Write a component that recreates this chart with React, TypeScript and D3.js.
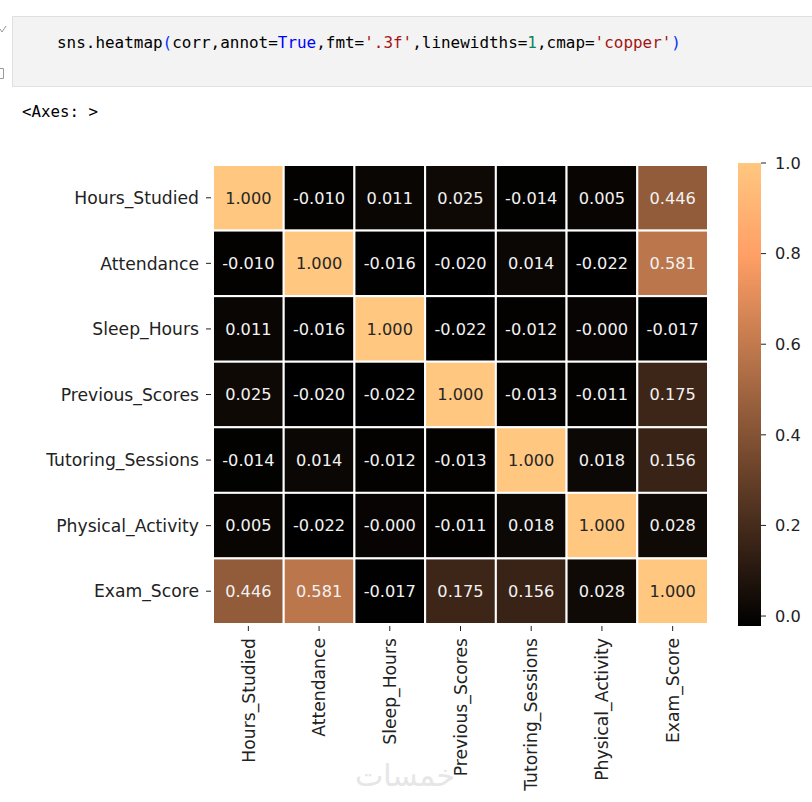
import React, { useEffect, useRef } from 'react';
import * as d3 from 'd3';

const labels = [
  'Hours_Studied',
  'Attendance',
  'Sleep_Hours',
  'Previous_Scores',
  'Tutoring_Sessions',
  'Physical_Activity',
  'Exam_Score',
];

const corr = [
  [1.0, -0.01, 0.011, 0.025, -0.014, 0.005, 0.446],
  [-0.01, 1.0, -0.016, -0.02, 0.014, -0.022, 0.581],
  [0.011, -0.016, 1.0, -0.022, -0.012, -0.0003, -0.017],
  [0.025, -0.02, -0.022, 1.0, -0.013, -0.011, 0.175],
  [-0.014, 0.014, -0.012, -0.013, 1.0, 0.018, 0.156],
  [0.005, -0.022, -0.0003, -0.011, 0.018, 1.0, 0.028],
  [0.446, 0.581, -0.017, 0.175, 0.156, 0.028, 1.0],
];

const cbTicks = [0.0, 0.2, 0.4, 0.6, 0.8, 1.0];

const codeParts = [
  { t: 'sns.heatmap', c: '#000000' },
  { t: '(', c: '#0431fa' },
  { t: 'corr,annot=', c: '#000000' },
  { t: 'True', c: '#0000ff' },
  { t: ',fmt=', c: '#000000' },
  { t: "'.3f'", c: '#a31515' },
  { t: ',linewidths=', c: '#000000' },
  { t: '1', c: '#098658' },
  { t: ',cmap=', c: '#000000' },
  { t: "'copper'", c: '#a31515' },
  { t: ')', c: '#0431fa' },
];

// matplotlib 'copper'
const copper = (t: number) => {
  const x = Math.max(0, Math.min(1, t));
  const r = Math.min(1, 1.25 * x);
  const g = 0.7812 * x;
  const b = 0.4975 * x;
  return d3.rgb(r * 255, g * 255, b * 255).formatHex();
};

const lum = (hex: string) => {
  const c = d3.rgb(hex);
  const f = (v: number) => {
    const s = v / 255;
    return s <= 0.03928 ? s / 12.92 : Math.pow((s + 0.055) / 1.055, 2.4);
  };
  return 0.2126 * f(c.r) + 0.7152 * f(c.g) + 0.0722 * f(c.b);
};

const App: React.FC = () => {
  const svgRef = useRef<SVGSVGElement>(null);

  useEffect(() => {
    if (!svgRef.current) return;
    const svg = d3.select(svgRef.current);
    svg.selectAll('*').remove();

    const font = '"DejaVu Sans", sans-serif';
    const mono = '"DejaVu Sans Mono", monospace';
    const tickSize = 17.2;

    // notebook cell
    svg.append('rect')
      .attr('x', 12.5).attr('y', 16.5).attr('width', 820).attr('height', 70)
      .attr('fill', '#f3f3f3').attr('stroke', '#e0e0e0');
    svg.append('path')
      .attr('d', 'M0,29 L2,32 L6,26')
      .attr('fill', 'none').attr('stroke', '#9a9a9a').attr('stroke-width', 1);
    svg.append('path')
      .attr('d', 'M0,68.5 H3.5 V78.5 H0')
      .attr('fill', 'none').attr('stroke', '#9a9a9a').attr('stroke-width', 1);

    const code = svg.append('text')
      .attr('x', 57).attr('y', 48)
      .attr('font-family', mono).attr('font-size', 15.5)
      .attr('textLength', 624).attr('lengthAdjust', 'spacingAndGlyphs');
    codeParts.forEach(p => code.append('tspan').attr('fill', p.c).text(p.t));

    svg.append('text')
      .attr('x', 22).attr('y', 117)
      .attr('font-family', mono).attr('font-size', 15.5)
      .attr('textLength', 76).attr('lengthAdjust', 'spacingAndGlyphs')
      .attr('fill', '#000')
      .text('<Axes: >');

    // heatmap
    const vmin = d3.min(corr.flat())!;
    const vmax = d3.max(corr.flat())!;
    const norm = d3.scaleLinear().domain([vmin, vmax]).range([0, 1]);

    const x = d3.scaleBand().domain(labels).range([213, 708]);
    const y = d3.scaleBand().domain(labels).range([165, 624]);

    const cells = labels.flatMap((r, i) =>
      labels.map((c, j) => ({ r, c, v: corr[i][j] }))
    );

    svg.selectAll('.cell')
      .data(cells)
      .enter()
      .append('rect')
      .attr('x', d => x(d.c)!)
      .attr('y', d => y(d.r)!)
      .attr('width', x.bandwidth())
      .attr('height', y.bandwidth())
      .attr('fill', d => copper(norm(d.v)))
      .attr('stroke', '#ffffff')
      .attr('stroke-width', 2);

    svg.selectAll('.annot')
      .data(cells)
      .enter()
      .append('text')
      .attr('x', d => x(d.c)! + x.bandwidth() / 2)
      .attr('y', d => y(d.r)! + y.bandwidth() / 2)
      .attr('dy', '0.36em')
      .attr('text-anchor', 'middle')
      .attr('font-family', font)
      .attr('font-size', 16.2)
      .attr('fill', d => (lum(copper(norm(d.v))) > 0.408 ? '#262626' : '#f2f2f2'))
      .text(d => d.v.toFixed(3));

    // y axis
    labels.forEach(l => {
      const cy = y(l)! + y.bandwidth() / 2;
      svg.append('line')
        .attr('x1', 206).attr('x2', 211).attr('y1', cy).attr('y2', cy)
        .attr('stroke', '#222').attr('stroke-width', 1);
      svg.append('text')
        .attr('x', 199).attr('y', cy).attr('dy', '0.36em')
        .attr('text-anchor', 'end')
        .attr('font-family', font).attr('font-size', tickSize).attr('fill', '#222')
        .text(l);
    });

    // x axis
    labels.forEach(l => {
      const cx = x(l)! + x.bandwidth() / 2;
      svg.append('line')
        .attr('x1', cx).attr('x2', cx).attr('y1', 626).attr('y2', 631)
        .attr('stroke', '#222').attr('stroke-width', 1);
      svg.append('text')
        .attr('transform', `translate(${cx},638) rotate(-90)`)
        .attr('dy', '0.36em')
        .attr('text-anchor', 'end')
        .attr('font-family', font).attr('font-size', tickSize).attr('fill', '#222')
        .text(l);
    });

    // colorbar
    const cbX = 738;
    const cbW = 23;
    const cb = d3.scaleLinear().domain([vmin, vmax]).range([626, 163]);
    const grad = svg.append('defs').append('linearGradient')
      .attr('id', 'copper-grad')
      .attr('x1', 0).attr('y1', 1).attr('x2', 0).attr('y2', 0);
    d3.range(0, 1.0001, 0.05).forEach(t => {
      grad.append('stop').attr('offset', t).attr('stop-color', copper(t));
    });
    svg.append('rect')
      .attr('x', cbX).attr('y', cb(vmax)).attr('width', cbW)
      .attr('height', cb(vmin) - cb(vmax))
      .attr('fill', 'url(#copper-grad)');

    cbTicks.forEach(t => {
      svg.append('line')
        .attr('x1', cbX + cbW).attr('x2', cbX + cbW + 5)
        .attr('y1', cb(t)).attr('y2', cb(t))
        .attr('stroke', '#222').attr('stroke-width', 1);
      svg.append('text')
        .attr('x', cbX + cbW + 14).attr('y', cb(t)).attr('dy', '0.36em')
        .attr('font-family', font).attr('font-size', 16.2).attr('fill', '#222')
        .text(t.toFixed(1));
    });

    // watermark
    svg.append('text')
      .attr('x', 405).attr('y', 786)
      .attr('text-anchor', 'middle')
      .attr('font-family', font).attr('font-size', 30)
      .attr('fill', '#e6e6e6')
      .text('خمسات');
  }, []);

  return (
    <svg
      ref={svgRef}
      width={812}
      height={802}
      style={{ position: 'absolute', left: 0, top: 0, background: '#ffffff' }}
    />
  );
};

export default App;
